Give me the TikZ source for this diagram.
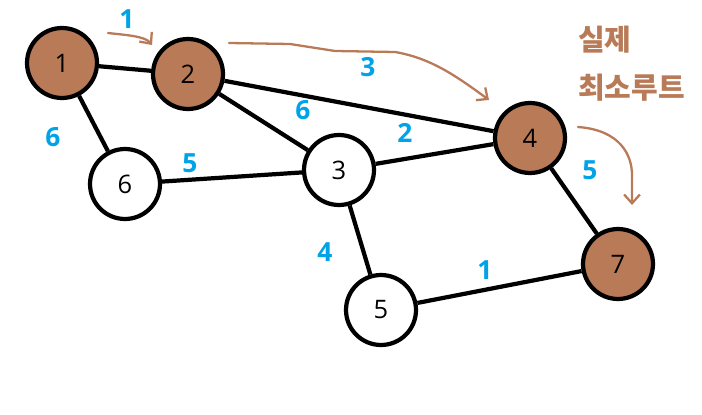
\documentclass[tikz,border=0pt]{standalone}
\usepackage{fontspec}
\setmainfont{Open Sans}
\newfontfamily\krfont{Noto Sans CJK KR}
\usepackage{xcolor}
\usetikzlibrary{arrows.meta}
\definecolor{clrPath}{RGB}{185,122,87}
\definecolor{clrWeight}{RGB}{0,162,232}

\begin{document}
\begin{tikzpicture}[
  x=0.02cm, y=-0.02cm,
  vtx/.style={
    circle, draw=black, line width=2.4pt, minimum size=1.4cm,
    inner sep=0pt, font=\fontsize{14.5}{14.5}\selectfont
  },
  pvtx/.style={vtx, fill=clrPath},
  edge/.style={line width=2.4pt, black},
  wlbl/.style={font=\fontsize{15}{15}\selectfont\bfseries, color=clrWeight},
  note/.style={font=\fontsize{16.5}{16.5}\selectfont\krfont\bfseries, color=clrPath, anchor=west},
  hand/.style={line width=1.3pt, color=clrPath, line cap=round, line join=round,
    -{Straight Barb[length=5pt,width=9pt,line width=1.3pt]}}
]
\useasboundingbox (0,0) rectangle (702,415);

\node[pvtx] (n1) at (62,63)   {1};
\node[pvtx] (n2) at (188,74)  {2};
\node[pvtx] (n4) at (530,138) {4};
\node[pvtx] (n7) at (618,264) {7};
\node[vtx]  (n6) at (125,184) {6};
\node[vtx]  (n3) at (339,170) {3};
\node[vtx]  (n5) at (381,310) {5};

\draw[edge] (n1) -- (n2);
\draw[edge] (n1) -- (n6);
\draw[edge] (n2) -- (n4);
\draw[edge] (n2) -- (n3);
\draw[edge] (n6) -- (n3);
\draw[edge] (n3) -- (n4);
\draw[edge] (n3) -- (n5);
\draw[edge] (n4) -- (n7);
\draw[edge] (n5) -- (n7);

% weights
\node[wlbl] (w12) at (127,19)  {1};
\node[wlbl] (w24) at (368,67)  {3};
\node[wlbl] (w23) at (303,110) {6};
\node[wlbl] (w34) at (405,133) {2};
\node[wlbl] (w16) at (53,137)  {6};
\node[wlbl] (w63) at (190,163) {5};
\node[wlbl] (w47) at (590,170) {5};
\node[wlbl] (w35) at (325,252) {4};
\node[wlbl] (w57) at (485,270) {1};

% shortest route
\node[note] (t1) at (572,40) {실제};
\node[note] (t2) at (572,88) {최소루트};

\coordinate (a1s) at (108,33);
\coordinate (a1e) at (152,45);
\coordinate (a2s) at (229,43);
\coordinate (a2e) at (489,100);
\coordinate (a3s) at (578,127);
\coordinate (a3e) at (632,205);

\draw[hand] (a1s) .. controls (125,35) and (145,36) .. (a1e);
\draw[hand] (a2s) -- (290,44) -- (335,51) -- (395,52)
  .. controls (430,58) and (455,75) .. (a2e);
\draw[hand] (a3s) .. controls (620,130) and (632,155) .. (632,175) -- (a3e);

\end{tikzpicture}
\end{document}
